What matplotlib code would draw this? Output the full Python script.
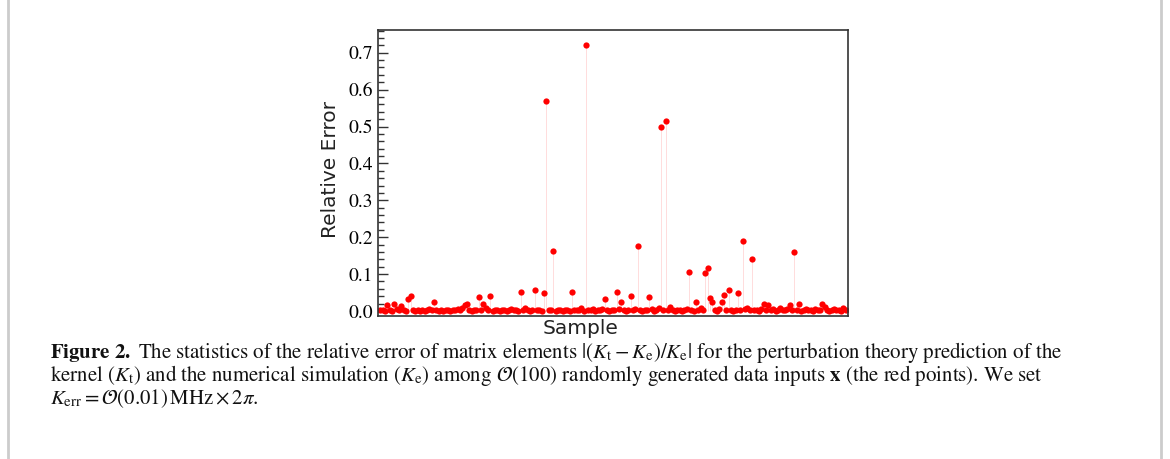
import matplotlib
matplotlib.use("Agg")
import matplotlib.pyplot as plt
from matplotlib.ticker import MultipleLocator
from matplotlib.lines import Line2D
import numpy as np

# relative error |(Kt - Ke)/Ke| for each random sample
rel_err = [
    0.004, 0.002, 0.001, 0.016, 0.003, 0.001, 0.02, 0.005, 0.002, 0.013,
    0.004, 0.001, 0.033, 0.04, 0.002, 0.001, 0.003, 0.000, 0.002, 0.001,
    0.003, 0.005, 0.002, 0.024, 0.004, 0.001, 0.002, 0.000, 0.003, 0.002,
    0.001, 0.004, 0.002, 0.006, 0.003, 0.008, 0.015, 0.02, 0.003, 0.001,
    0.004, 0.002, 0.038, 0.003, 0.02, 0.008, 0.002, 0.04, 0.001, 0.003,
    0.002, 0.000, 0.004, 0.002, 0.001, 0.003, 0.005, 0.002, 0.004, 0.001,
    0.052, 0.003, 0.008, 0.002, 0.001, 0.004, 0.057, 0.002, 0.003, 0.001,
    0.05, 0.57, 0.002, 0.004, 0.163, 0.001, 0.003, 0.002, 0.000, 0.004,
    0.002, 0.001, 0.052, 0.003, 0.002, 0.004, 0.008, 0.001, 0.72, 0.003,
    0.002, 0.005, 0.001, 0.003, 0.002, 0.006, 0.032, 0.004, 0.001, 0.003,
    0.002, 0.052, 0.005, 0.024, 0.003, 0.001, 0.004, 0.04, 0.002, 0.006,
    0.176, 0.003, 0.001, 0.004, 0.002, 0.038, 0.005, 0.001, 0.003, 0.007,
    0.50, 0.004, 0.515, 0.002, 0.01, 0.003, 0.001, 0.004, 0.002, 0.000,
    0.003, 0.006, 0.105, 0.002, 0.001, 0.024, 0.004, 0.008, 0.002, 0.103,
    0.117, 0.035, 0.024, 0.003, 0.001, 0.005, 0.024, 0.044, 0.002, 0.057,
    0.004, 0.001, 0.003, 0.05, 0.002, 0.19, 0.005, 0.008, 0.003, 0.14,
    0.002, 0.004, 0.001, 0.006, 0.02, 0.003, 0.016, 0.002, 0.005, 0.001,
    0.004, 0.007, 0.003, 0.002, 0.006, 0.016, 0.004, 0.16, 0.002, 0.02,
    0.001, 0.003, 0.006, 0.002, 0.004, 0.001, 0.005, 0.003, 0.002, 0.018,
    0.012, 0.003, 0.001, 0.004, 0.006, 0.002, 0.003, 0.001, 0.008, 0.004,
]
y_ticks = [0.0, 0.1, 0.2, 0.3, 0.4, 0.5, 0.6, 0.7]

caption_lines = [
    r"$\mathbf{Figure\ 2.}$ The statistics of the relative error of matrix elements "
    r"$|(K_\mathrm{t}-K_\mathrm{e})/K_\mathrm{e}|$ for the perturbation theory prediction of the",
    r"kernel $(K_\mathrm{t})$ and the numerical simulation $(K_\mathrm{e})$ among "
    r"$\mathcal{O}(100)$ randomly generated data inputs $\mathbf{x}$ (the red points). We set",
    r"$K_\mathrm{err} = \mathcal{O}(0.01)\,\mathrm{MHz}\times 2\pi$.",
]

plt.rcParams['mathtext.fontset'] = 'stix'

W, H = 1170, 459
fig = plt.figure(figsize=(W / 100, H / 100), dpi=100)

ax = fig.add_axes([378 / W, 1 - 316 / H, (848 - 378) / W, (316 - 30) / H])

x = np.arange(len(rel_err))
ax.vlines(x, 0, rel_err, color='#ffdcdc', lw=0.7, zorder=1)
ax.plot(x, rel_err, 'o', color='#ff0000', ms=4.5, mec='none', zorder=2)

ax.set_xlim(-1, len(rel_err))
ax.set_ylim(-0.0135, 0.7615)
ax.set_xticks([])
ax.set_yticks(y_ticks)
ax.set_yticklabels(["%.1f" % t for t in y_ticks], family='STIXGeneral', fontsize=14)
ax.yaxis.set_minor_locator(MultipleLocator(0.02))
ax.tick_params(axis='y', which='major', direction='in', length=7, width=1, color='#333333')
ax.tick_params(axis='y', which='minor', direction='in', length=4, width=1, color='#333333')
for s in ax.spines.values():
    s.set_color('#333333')
    s.set_linewidth(1.2)

# axis labels placed where the original has them
fig.text(330 / W, 1 - 169 / H, "Relative Error", rotation=90, ha='center', va='center',
         fontsize=14.5, family='DejaVu Sans', color='#222222')
fig.text(581 / W, 1 - 329 / H, "Sample", ha='center', va='center',
         fontsize=14.5, family='DejaVu Sans', color='#222222')

# caption
for i, line in enumerate(caption_lines):
    fig.text(50 / W, 1 - (358 + 23 * i) / H, line, ha='left', va='baseline',
             fontsize=15, family='STIXGeneral', color='#111111')

# page frame
fig.add_artist(Line2D([8 / W, 8 / W], [0, 1], transform=fig.transFigure, color='#cccccc', lw=2))
fig.add_artist(Line2D([1161 / W, 1161 / W], [0, 1], transform=fig.transFigure, color='#cccccc', lw=2))

fig.savefig("out.png", dpi=100)
